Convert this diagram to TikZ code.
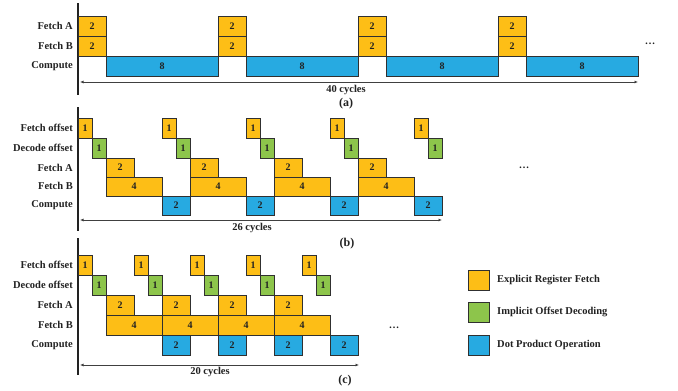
\documentclass[tikz,border=0pt]{standalone}
\usepackage{fontspec}
\setmainfont{Liberation Serif}
\usetikzlibrary{arrows.meta}
\definecolor{fetchc}{HTML}{FDBE16}
\definecolor{decc}{HTML}{8DC54B}
\definecolor{dotc}{HTML}{27AAE1}
\definecolor{edgec}{HTML}{303030}
\definecolor{inkc}{HTML}{222222}

% one pipeline cell: name, start cycle, length (cycles), top y, bottom y, fill, text
\newcommand\pipecell[7]{%
  \pgfmathsetmacro\cellx{78+(#2)*14}%
  \pgfmathsetmacro\cellw{(#3)*14}%
  \pgfmathsetmacro\cellh{(#5)-(#4)}%
  \node[cell, fill=#6, minimum width=\cellw pt, minimum height=\cellh pt]
    (#1) at (\cellx,#4) {#7};}

\begin{document}
\begin{tikzpicture}[x=1pt,y=-1pt,
  cell/.style={draw=edgec, line width=0.9pt, inner sep=0pt, outer sep=0pt,
    anchor=north west, font=\fontsize{10}{10}\selectfont\bfseries, text=inkc},
  lbl/.style={anchor=east, inner sep=0pt, font=\fontsize{10.5}{11}\selectfont\bfseries, text=inkc},
  note/.style={inner sep=0pt, font=\fontsize{10.5}{11}\selectfont\bfseries, text=inkc},
  tag/.style={inner sep=0pt, font=\fontsize{12}{12}\selectfont\bfseries, text=inkc},
  axisline/.style={line width=1.1pt, draw=inkc},
  span/.style={draw=black!75, line width=1pt,
    {Latex[length=3.5pt,width=3pt]}-{Latex[length=3.5pt,width=3pt]}},
  keybox/.style={draw=edgec, line width=0.9pt, minimum width=21pt, minimum height=20pt,
    inner sep=0pt, anchor=north west},
]
\useasboundingbox (0,0) rectangle (678,391);

% ---------------- (a) conventional fetch / compute ----------------
\draw[axisline] (78,3) coordinate (aT) -- (78,95) coordinate (aB);
\node[lbl] (aLA) at (73,26) {Fetch A};
\node[lbl] (aLB) at (73,46) {Fetch B};
\node[lbl] (aLC) at (73,66) {Compute};
\foreach \k in {0,...,3}{
  \pipecell{aFA\k}{10*\k}{2}{16}{36.5}{fetchc}{2}
  \pipecell{aFB\k}{10*\k}{2}{36.5}{56}{fetchc}{2}
  \pipecell{aC\k}{10*\k+2}{8}{56}{76}{dotc}{8}
}
\node[note] (aDots) at (650,44) {\dots};
\coordinate (aS) at (80,82);
\coordinate (aE) at (638,82);
\draw[span] (aS) -- (aE);
\node[note] (aCyc) at (346,90) {40 cycles};
\node[tag] (aTag) at (346,104) {(a)};

% ---------------- (b) offset-based fetch ----------------
\draw[axisline] (78,107) coordinate (bT) -- (78,231) coordinate (bB);
\node[lbl] (bLO) at (73,128) {Fetch offset};
\node[lbl] (bLD) at (73,148) {Decode offset};
\node[lbl] (bLA) at (73,168) {Fetch A};
\node[lbl] (bLB) at (73,186) {Fetch B};
\node[lbl] (bLC) at (73,205.5) {Compute};
\foreach \k in {0,...,4}{
  \pipecell{bFO\k}{6*\k}{1}{118}{138}{fetchc}{1}
  \pipecell{bDO\k}{6*\k+1}{1}{138}{158}{decc}{1}
}
\foreach \k in {0,...,3}{
  \pipecell{bFA\k}{6*\k+2}{2}{158}{177}{fetchc}{2}
  \pipecell{bFB\k}{6*\k+2}{4}{177}{196}{fetchc}{4}
  \pipecell{bC\k}{6*\k+6}{2}{196}{215}{dotc}{2}
}
\node[note] (bDots) at (524,168) {\dots};
\coordinate (bS) at (80,220);
\coordinate (bE) at (442,220);
\draw[span] (bS) -- (bE);
\node[note] (bCyc) at (252,228) {26 cycles};
\node[tag] (bTag) at (347,244) {(b)};

% ---------------- (c) overlapped offset-based fetch ----------------
\draw[axisline] (78,238) coordinate (cT) -- (78,375) coordinate (cB);
\node[lbl] (cLO) at (73,265) {Fetch offset};
\node[lbl] (cLD) at (73,285) {Decode offset};
\node[lbl] (cLA) at (73,305) {Fetch A};
\node[lbl] (cLB) at (73,325) {Fetch B};
\node[lbl] (cLC) at (73,345) {Compute};
\foreach \k in {0,...,4}{
  \pipecell{cFO\k}{4*\k}{1}{255}{275}{fetchc}{1}
  \pipecell{cDO\k}{4*\k+1}{1}{275}{295}{decc}{1}
}
\foreach \k in {0,...,3}{
  \pipecell{cFA\k}{4*\k+2}{2}{295}{315.5}{fetchc}{2}
  \pipecell{cFB\k}{4*\k+2}{4}{315.5}{335.5}{fetchc}{4}
  \pipecell{cC\k}{4*\k+6}{2}{335.5}{355}{dotc}{2}
}
\node[note] (cDots) at (394,328) {\dots};
\coordinate (cS) at (80,365);
\coordinate (cE) at (359,365);
\draw[span] (cS) -- (cE);
\node[note] (cCyc) at (210,372) {20 cycles};
\node[tag] (cTag) at (345,381) {(c)};

% ---------------- legend ----------------
\node[keybox, fill=fetchc] (k1) at (468,270) {};
\node[keybox, fill=decc]   (k2) at (468,302) {};
\node[keybox, fill=dotc]   (k3) at (468,335) {};
\node[note, anchor=west] (k1t) at (497,280) {Explicit Register Fetch};
\node[note, anchor=west] (k2t) at (497,312) {Implicit Offset Decoding};
\node[note, anchor=west] (k3t) at (497,345) {Dot Product Operation};
\end{tikzpicture}
\end{document}
